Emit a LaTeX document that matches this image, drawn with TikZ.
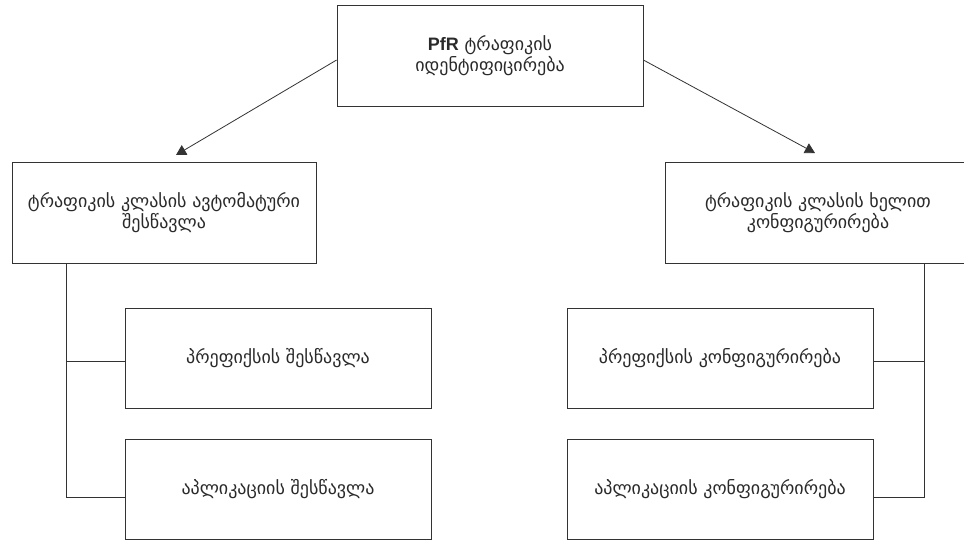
\documentclass[tikz,border=0pt]{standalone}
\usepackage{fontspec}
\setmainfont{DejaVu Sans}
\newfontfamily\geofont{DejaVu Sans}
\newfontfamily\latfont{Liberation Sans}
\usetikzlibrary{arrows.meta}
\definecolor{ink}{HTML}{2A2A2A}
\definecolor{edge}{HTML}{333333}
\tikzset{
  box/.style={draw=edge, line width=0.8pt, minimum width=306pt, minimum height=101pt,
    inner sep=0pt, align=center, text=ink, font=\geofont\fontsize{18}{21}\selectfont},
  link/.style={draw=edge, line width=0.8pt},
  arrowlink/.style={link, -{Triangle[length=10pt,width=11pt]}}
}
\begin{document}
\begin{tikzpicture}[x=1pt,y=-1pt]
  \clip (0,0) rectangle (964,542);
  \fill[white] (0,0) rectangle (964,542);

  % root
  \node[box] (root) at (490,55.5) {{\latfont\bfseries PfR} ტრაფიკის\\იდენტიფიცირება};

  % two branches
  \node[box, minimum width=304pt] (auto) at (164,212.5) {ტრაფიკის კლასის ავტომატური\\შესწავლა};
  \node[box] (manual) at (818,212.5) {ტრაფიკის კლასის ხელით\\კონფიგურირება};

  % leaves
  \node[box, minimum height=100pt] (apfx) at (278,358.5) {პრეფიქსის შესწავლა};
  \node[box, minimum height=100pt] (aapp) at (278,489.5) {აპლიკაციის შესწავლა};
  \node[box, minimum height=100pt] (mpfx) at (720,358.5) {პრეფიქსის კონფიგურირება};
  \node[box, minimum height=100pt] (mapp) at (720,489.5) {აპლიკაციის კონფიგურირება};

  % arrow ends, joints and tree spines
  \coordinate (atip) at (176,155);
  \coordinate (mtip) at (815,153);
  \coordinate (lspine) at (66,0);
  \coordinate (rspine) at (924,0);
  \coordinate (apfxjoin) at ([yshift=-2.5pt]apfx.west);
  \coordinate (aappjoin) at ([yshift=-7.5pt]aapp.west);
  \coordinate (mpfxjoin) at ([yshift=-2.5pt]mpfx.east);
  \coordinate (mappjoin) at ([yshift=-7.5pt]mapp.east);

  \draw[arrowlink] ([yshift=-4.5pt]root.west) -- (atip);
  \draw[arrowlink] ([yshift=-4.5pt]root.east) -- (mtip);

  \draw[link] (lspine |- auto.south) |- (aappjoin);
  \draw[link] (lspine |- apfxjoin) -- (apfxjoin);
  \draw[link] (rspine |- manual.south) |- (mappjoin);
  \draw[link] (rspine |- mpfxjoin) -- (mpfxjoin);
\end{tikzpicture}
\end{document}
